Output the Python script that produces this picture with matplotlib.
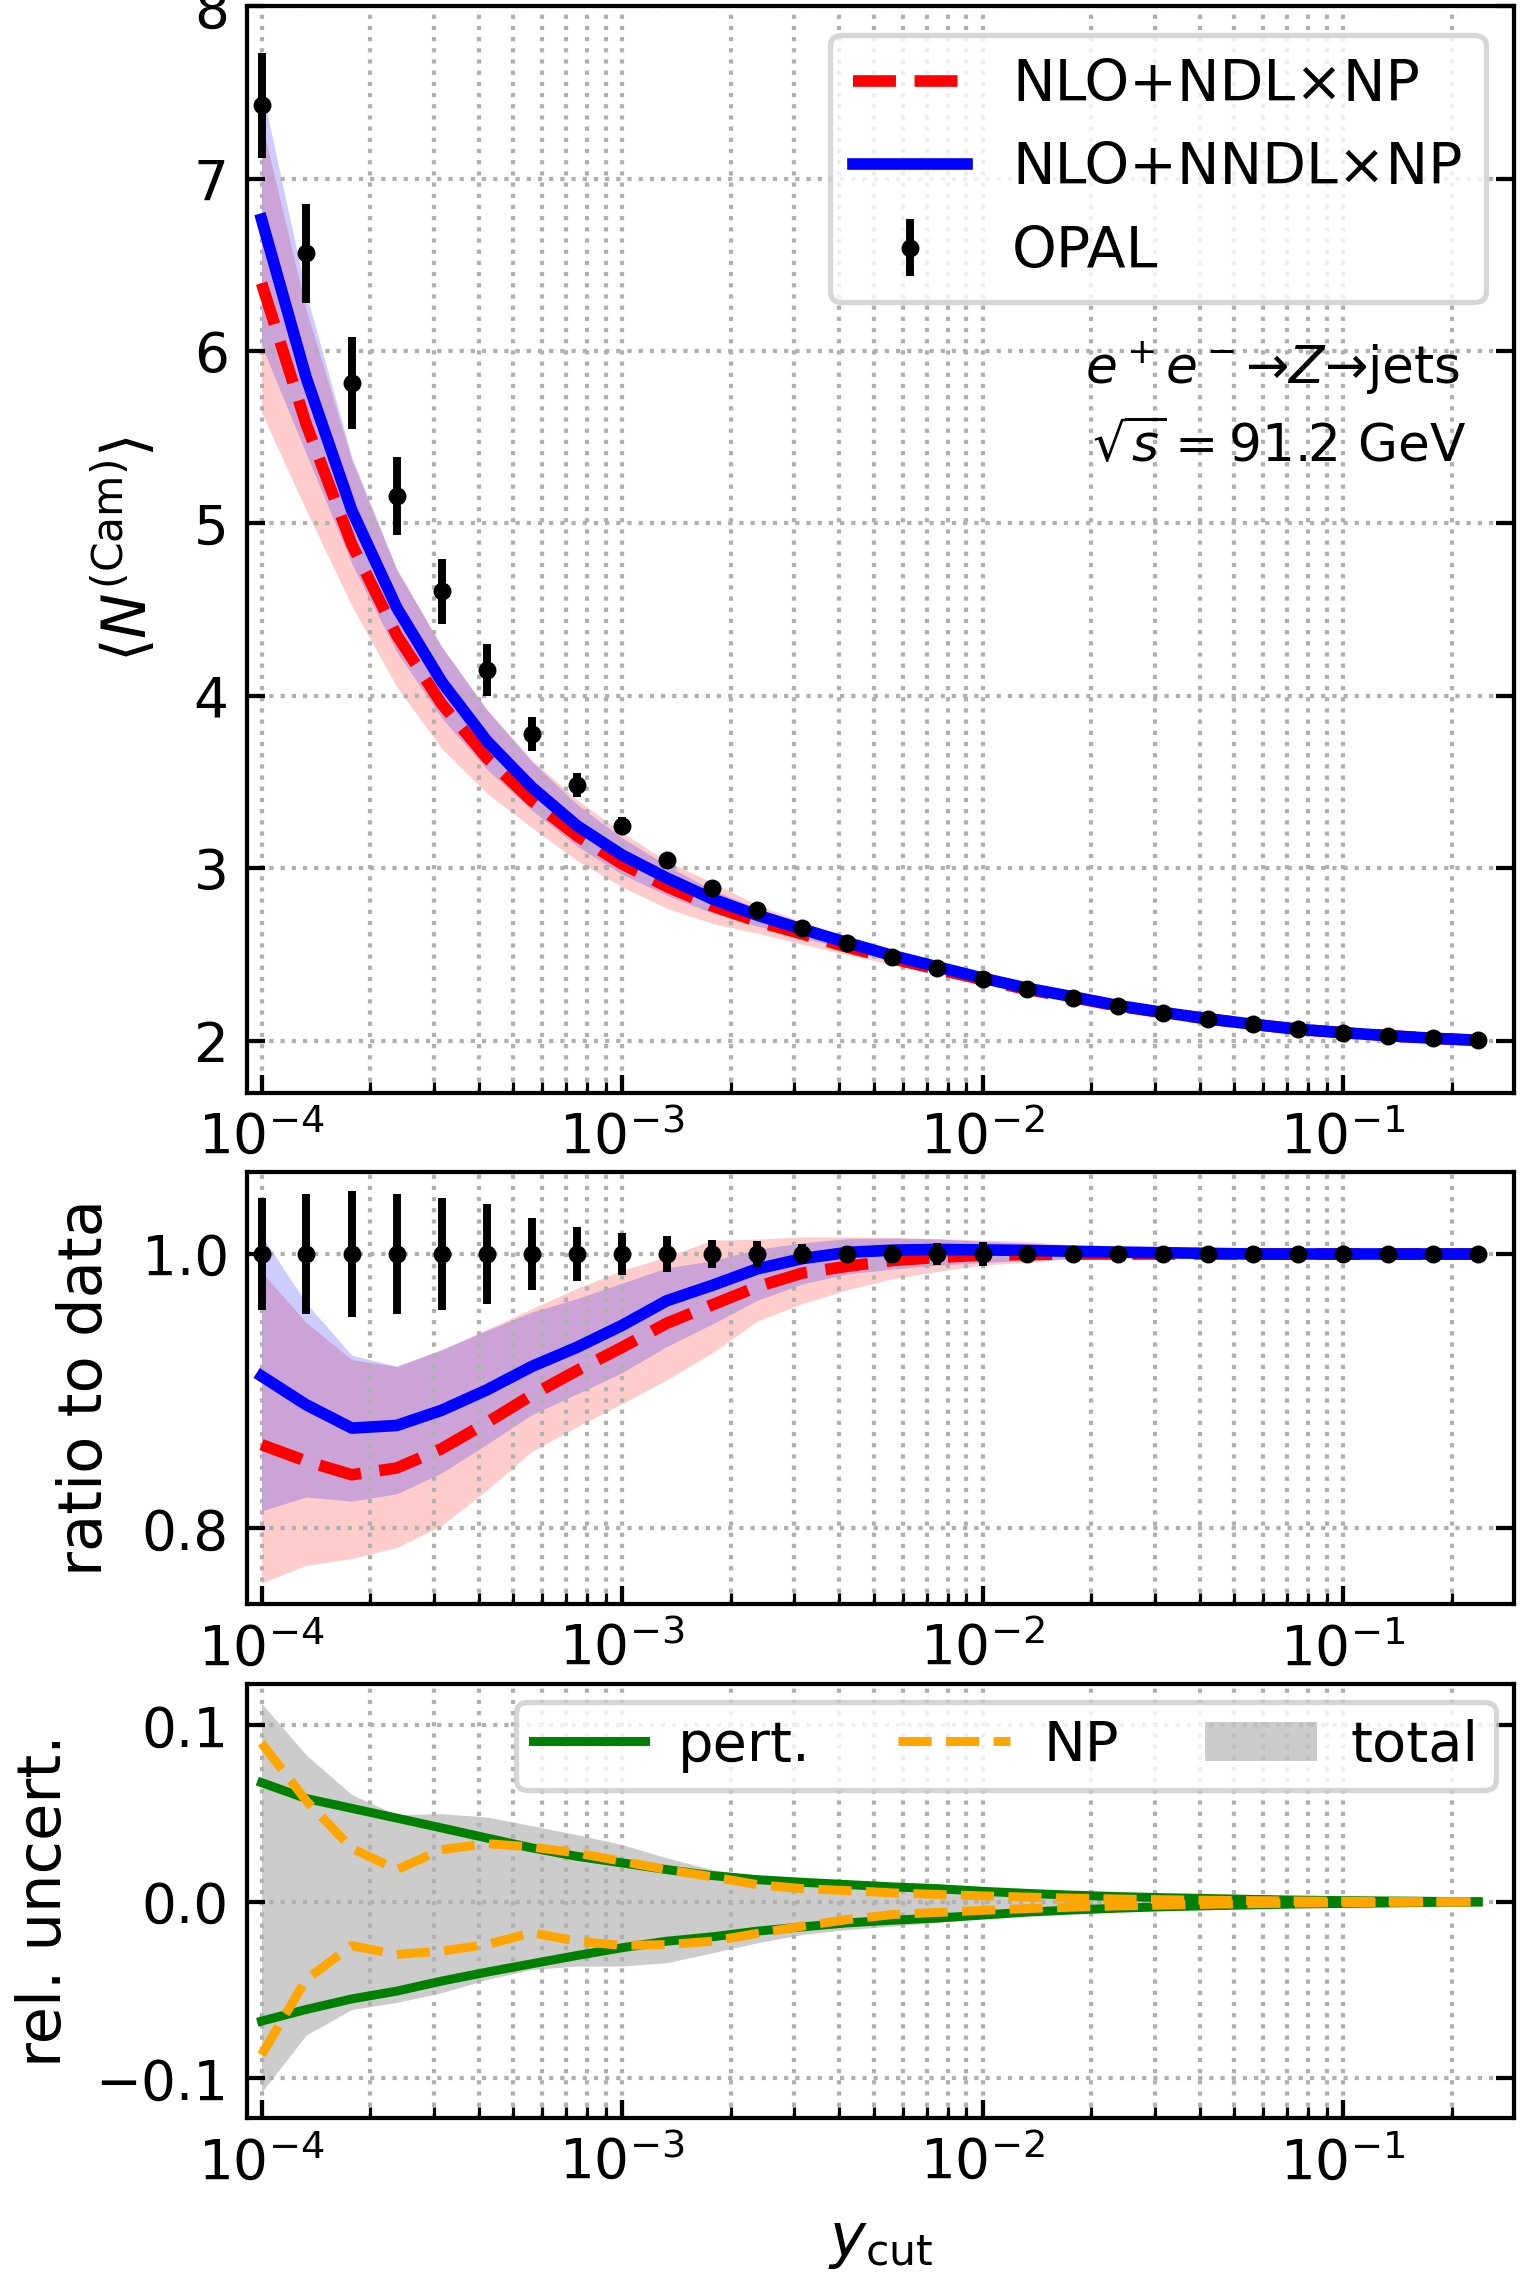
import numpy as np
import matplotlib
matplotlib.use("Agg")
import matplotlib.pyplot as plt
from matplotlib.patches import Patch
from matplotlib.lines import Line2D

# ---------------------------------------------------------------------------
# Jet multiplicity with the Cambridge algorithm, e+e- -> Z -> jets at 91.2 GeV
# ---------------------------------------------------------------------------
ycut = [1.00e-4, 1.33e-4, 1.78e-4, 2.37e-4, 3.16e-4, 4.22e-4, 5.62e-4, 7.50e-4,
        1.00e-3, 1.33e-3, 1.78e-3, 2.37e-3, 3.16e-3, 4.22e-3, 5.62e-3, 7.50e-3,
        1.00e-2, 1.33e-2, 1.78e-2, 2.37e-2, 3.16e-2, 4.22e-2, 5.62e-2, 7.50e-2,
        1.00e-1, 1.33e-1, 1.78e-1, 2.37e-1]

# OPAL measurement and its uncertainty
opal = [7.426, 6.568, 5.814, 5.158, 4.607, 4.149, 3.780, 3.484,
        3.246, 3.048, 2.888, 2.758, 2.656, 2.565, 2.487, 2.420,
        2.356, 2.298, 2.250, 2.201, 2.162, 2.126, 2.095, 2.066,
        2.046, 2.029, 2.0135, 2.002]
opal_err = [0.305, 0.287, 0.268, 0.227, 0.189, 0.151, 0.099, 0.069,
            0.050, 0.040, 0.030, 0.027, 0.019, 0.015, 0.017, 0.019,
            0.020, 0.010, 0.008, 0.007, 0.006, 0.005, 0.005, 0.004,
            0.004, 0.003, 0.003, 0.002]

# NLO+NDL x NP prediction with its band
ndl = [6.394, 5.576, 4.878, 4.353, 3.953, 3.639, 3.391, 3.188,
       3.025, 2.894, 2.781, 2.692, 2.619, 2.542, 2.475, 2.414,
       2.354, 2.297, 2.250, 2.201, 2.162, 2.126, 2.095, 2.066,
       2.046, 2.029, 2.0135, 2.002]
ndl_lo = [5.644, 5.077, 4.523, 4.054, 3.695, 3.435, 3.236, 3.045,
          2.892, 2.768, 2.680, 2.623, 2.560, 2.498, 2.442, 2.389,
          2.337, 2.284, 2.243, 2.197, 2.160, 2.125, 2.094, 2.066,
          2.046, 2.029, 2.0135, 2.002]
ndl_hi = [7.329, 6.240, 5.366, 4.735, 4.285, 3.921, 3.629, 3.397,
          3.207, 3.042, 2.917, 2.788, 2.689, 2.597, 2.517, 2.447,
          2.380, 2.319, 2.265, 2.210, 2.168, 2.130, 2.098, 2.068,
          2.047, 2.029, 2.0135, 2.002]

# NLO+NNDL x NP prediction
nndl = [6.765, 5.846, 5.076, 4.513, 4.082, 3.738, 3.470, 3.247,
        3.077, 2.944, 2.822, 2.728, 2.647, 2.568, 2.494, 2.428,
        2.363, 2.304, 2.2545, 2.204, 2.164, 2.127, 2.095, 2.066,
        2.046, 2.029, 2.0135, 2.002]

# relative uncertainties of the NLO+NNDL x NP prediction
pert_up = [0.0676, 0.0586, 0.0530, 0.0475, 0.0419, 0.0362, 0.0306, 0.0258,
           0.0221, 0.0183, 0.0149, 0.0126, 0.0111, 0.0098, 0.0085, 0.0075,
           0.0060, 0.0048, 0.0038, 0.0030, 0.0024, 0.0019, 0.0014, 0.0010,
           0.0007, 0.0005, 0.0003, 0.0001]
pert_lo = [-0.0676, -0.0610, -0.0550, -0.0506, -0.0449, -0.0398, -0.0351, -0.0304,
           -0.0260, -0.0223, -0.0198, -0.0166, -0.0142, -0.0119, -0.0104, -0.0092,
           -0.0075, -0.0058, -0.0046, -0.0036, -0.0028, -0.0022, -0.0017, -0.0012,
           -0.0009, -0.0006, -0.0003, -0.0001]
np_up = [0.0900, 0.0574, 0.0304, 0.0183, 0.0296, 0.0330, 0.0311, 0.0277,
         0.0230, 0.0183, 0.0142, 0.0098, 0.0075, 0.0064, 0.0051, 0.0042,
         0.0034, 0.0027, 0.0021, 0.0016, 0.0012, 0.0009, 0.0007, 0.0005,
         0.0003, 0.0002, 0.0001, 0.0]
np_lo = [-0.0867, -0.0440, -0.0248, -0.0298, -0.0279, -0.0242, -0.0175, -0.0223,
         -0.0247, -0.0242, -0.0223, -0.0179, -0.0138, -0.0100, -0.0072, -0.0060,
         -0.0048, -0.0038, -0.0030, -0.0023, -0.0018, -0.0014, -0.0010, -0.0007,
         -0.0005, -0.0003, -0.0001, 0.0]
tot_up = [0.1126, 0.0833, 0.0608, 0.0494, 0.0500, 0.0481, 0.0432, 0.0381,
          0.0325, 0.0249, 0.0183, 0.0145, 0.0115, 0.0100, 0.0087, 0.0077,
          0.0062, 0.0050, 0.0040, 0.0032, 0.0026, 0.0020, 0.0015, 0.0011,
          0.0008, 0.0005, 0.0003, 0.0001]
tot_lo = [-0.1080, -0.0755, -0.0610, -0.0570, -0.0515, -0.0440, -0.0383, -0.0364,
          -0.0364, -0.0345, -0.0289, -0.0232, -0.0185, -0.0157, -0.0138, -0.0115,
          -0.0092, -0.0072, -0.0056, -0.0044, -0.0034, -0.0026, -0.0020, -0.0014,
          -0.0010, -0.0007, -0.0004, -0.0001]

x = np.array(ycut)
data = np.array(opal)
derr = np.array(opal_err)
c_ndl = np.array(ndl)
c_nndl = np.array(nndl)
nndl_lo = c_nndl * (1 + np.array(tot_lo))
nndl_hi = c_nndl * (1 + np.array(tot_up))

plt.rcParams['font.family'] = ['DejaVu Sans']
plt.rcParams['font.size'] = 10.5
plt.rcParams['mathtext.fontset'] = 'dejavusans'

W, H = 1520, 2273
DPI = 380
fig = plt.figure(figsize=(W / DPI, H / DPI), dpi=DPI)

LEFT, RIGHT = 247.2, 1514.0


def rect(top_px, bot_px):
    return [LEFT / W, 1 - bot_px / H, (RIGHT - LEFT) / W, (bot_px - top_px) / H]


ax1 = fig.add_axes(rect(6.3, 1092.7))
ax2 = fig.add_axes(rect(1171.7, 1604.0), sharex=ax1)
ax3 = fig.add_axes(rect(1683.8, 2118.0), sharex=ax1)

LW = 2.2
LW_UNC = 1.7
EB = dict(fmt='o', color='k', ms=3.4, mew=0, elinewidth=1.5, capsize=0, zorder=5)

# --- main panel -----------------------------------------------------------
ax1.fill_between(x, ndl_lo, ndl_hi, color='r', alpha=0.2, lw=0)
ax1.fill_between(x, nndl_lo, nndl_hi, color='b', alpha=0.2, lw=0)
ax1.plot(x, c_ndl, 'r--', lw=LW, label='NLO+NDL×NP')
ax1.plot(x, c_nndl, 'b-', lw=LW, label='NLO+NNDL×NP')
ax1.errorbar(x, data, yerr=derr, label='OPAL', **EB)
ax1.set_ylim(1.698, 8.0)
ax1.set_yticks([2, 3, 4, 5, 6, 7, 8])
ax1.set_ylabel(r'$\langle N^{(\mathrm{Cam})}\rangle$', fontsize=11.5, labelpad=6.7)
ax1.legend(loc='upper right', fontsize=10.8, handletextpad=0.8)
ax1.text(0.958, 0.653, r'$e^+e^-$→$Z$→jets', transform=ax1.transAxes,
         ha='right', va='baseline', fontsize=9.8)
ax1.text(0.962, 0.5815, r'$\sqrt{s}=91.2$ GeV', transform=ax1.transAxes,
         ha='right', va='baseline', fontsize=9.8)

# --- ratio panel ----------------------------------------------------------
ax2.fill_between(x, np.array(ndl_lo) / data, np.array(ndl_hi) / data,
                 color='r', alpha=0.2, lw=0)
ax2.fill_between(x, nndl_lo / data, nndl_hi / data, color='b', alpha=0.2, lw=0)
ax2.plot(x, c_ndl / data, 'r--', lw=LW)
ax2.plot(x, c_nndl / data, 'b-', lw=LW)
ax2.errorbar(x, np.ones_like(data), yerr=derr / data, **EB)
ax2.set_ylim(0.7448, 1.060)
ax2.set_yticks([0.8, 1.0])
ax2.set_ylabel('ratio to data', fontsize=11.5, labelpad=5.1)

# --- relative uncertainty panel -------------------------------------------
ax3.fill_between(x, tot_lo, tot_up, color='k', alpha=0.2, lw=0)
ax3.plot(x, pert_up, color='green', lw=LW_UNC)
ax3.plot(x, pert_lo, color='green', lw=LW_UNC)
ax3.plot(x, np_up, color='orange', ls='--', lw=LW_UNC)
ax3.plot(x, np_lo, color='orange', ls='--', lw=LW_UNC)
ax3.set_ylim(-0.1225, 0.1236)
ax3.set_yticks([-0.1, 0.0, 0.1])
ax3.set_ylabel('rel. uncert.', fontsize=11.5)
ax3.set_xlabel(r'$y_{\mathrm{cut}}$', fontsize=11.5)
handles = [Line2D([], [], color='green', lw=LW_UNC),
           Line2D([], [], color='orange', ls='--', lw=LW_UNC),
           Patch(facecolor='k', alpha=0.2, lw=0)]
ax3.legend(handles, ['pert.', 'NP', 'total'], loc='upper right', ncol=3,
           fontsize=10.6, columnspacing=1.55, borderaxespad=0.33,
           borderpad=0.3, handletextpad=0.6)

for ax in (ax1, ax2, ax3):
    ax.set_xscale('log')
    ax.set_xlim(10 ** -4.0397, 10 ** -0.5257)
    ax.tick_params(which='both', direction='in', top=False, right=True,
                   labelsize=10.4)
    ax.tick_params(axis='x', which='both', labelbottom=True)
    ax.grid(True, axis='x', which='both', ls=':')
    ax.grid(True, axis='y', which='major', ls=':')

fig.savefig('out.png', dpi=DPI)
